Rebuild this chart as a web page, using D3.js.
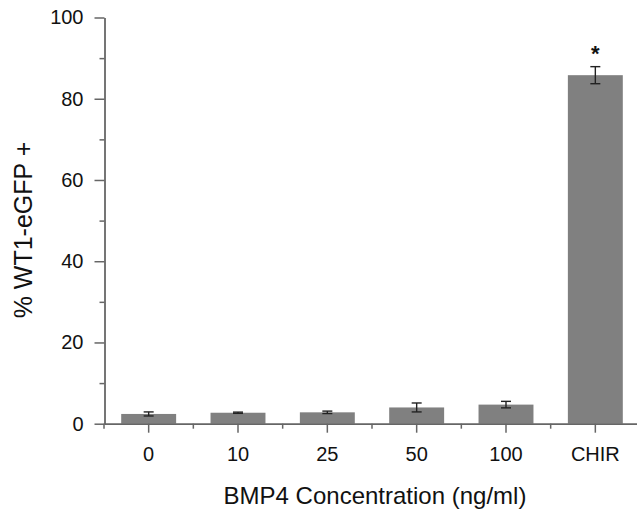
<!DOCTYPE html>
<html>
<head>
<meta charset="utf-8">
<script src="https://cdn.jsdelivr.net/npm/d3@7"></script>
<style>
  html, body { margin: 0; padding: 0; background: #fff; }
  svg { display: block; font-family: "Liberation Sans", Arial, sans-serif; }
</style>
</head>
<body>
<div id="chart"></div>
<script>
const categories = ["0", "10", "25", "50", "100", "CHIR"];
const values = [2.4, 2.7, 2.8, 4.0, 4.7, 85.8];
const errors = [0.5, 0.15, 0.3, 1.1, 0.8, 2.1];
const significant = [false, false, false, false, false, true];
const yMajorTicks = [0, 20, 40, 60, 80, 100];
const yMinorTicks = [10, 30, 50, 70, 90];

const width = 637;
const height = 513;
const axisColor = "#666";

const svg = d3.select("#chart").append("svg")
  .attr("width", width)
  .attr("height", height);

const x = d3.scaleBand()
  .domain(categories)
  .range([104, 640])
  .paddingInner(0.385)
  .paddingOuter(0.1925);

const y = d3.scaleLinear()
  .domain([0, 100])
  .range([423.7, 17.5]);

const data = categories.map((c, i) => ({ c, v: values[i], e: errors[i], s: significant[i] }));

// bars
svg.append("g")
  .selectAll("rect")
  .data(data)
  .join("rect")
  .attr("x", (d) => x(d.c))
  .attr("y", (d) => y(d.v))
  .attr("width", x.bandwidth())
  .attr("height", (d) => y(0) - y(d.v))
  .attr("fill", "#808080");

// error bars
const errG = svg.append("g").attr("stroke", "#222").attr("stroke-width", 1.4);
data.forEach((d) => {
  const cx = x(d.c) + x.bandwidth() / 2;
  const y1 = y(d.v + d.e), y2 = y(d.v - d.e);
  errG.append("line").attr("x1", cx).attr("x2", cx).attr("y1", y1).attr("y2", y2);
  errG.append("line").attr("x1", cx - 5).attr("x2", cx + 5).attr("y1", y1).attr("y2", y1);
  errG.append("line").attr("x1", cx - 5).attr("x2", cx + 5).attr("y1", y2).attr("y2", y2);
});

// significance marks
svg.append("g")
  .selectAll("text")
  .data(data.filter((d) => d.s))
  .join("text")
  .attr("x", (d) => x(d.c) + x.bandwidth() / 2)
  .attr("y", (d) => y(d.v + d.e) - 6)
  .attr("text-anchor", "middle")
  .style("font-size", "22px")
  .style("font-weight", "bold")
  .style("fill", "#111")
  .text("*");

// y axis minor ticks
const yMinor = svg.append("g")
  .attr("transform", "translate(104.5,0)")
  .call(d3.axisLeft(y).tickValues(yMinorTicks).tickSize(5).tickFormat(""));
yMinor.select(".domain").remove();

// y axis
const yAxis = svg.append("g")
  .attr("transform", "translate(104.5,0)")
  .call(d3.axisLeft(y).tickValues(yMajorTicks).tickSize(10).tickSizeOuter(0).tickPadding(11));
yAxis.selectAll("text").style("font-size", "20px").style("fill", "#111");

// x axis boundary ticks
const boundaries = categories.map((c) => x(c) - (x.step() - x.bandwidth()) / 2);
svg.append("g")
  .selectAll("line")
  .data(boundaries)
  .join("line")
  .attr("x1", (d) => d)
  .attr("x2", (d) => d)
  .attr("y1", y(0))
  .attr("y2", y(0) + 5)
  .attr("stroke", axisColor)
  .attr("stroke-width", 1.5);

// x axis
const xAxis = svg.append("g")
  .attr("transform", `translate(0,${y(0)})`)
  .call(d3.axisBottom(x).tickSize(9).tickSizeOuter(0).tickPadding(14));
xAxis.selectAll("text").style("font-size", "20px").style("fill", "#111");

[yAxis, yMinor, xAxis].forEach((g) => {
  g.selectAll("line").attr("stroke", axisColor).attr("stroke-width", 1.5);
  g.selectAll(".domain").attr("stroke", axisColor).attr("stroke-width", 1.8);
});

// axis titles
svg.append("text")
  .attr("x", 375)
  .attr("y", 504)
  .attr("text-anchor", "middle")
  .style("font-size", "24px")
  .style("fill", "#111")
  .text("BMP4 Concentration (ng/ml)");

svg.append("text")
  .attr("transform", "translate(32,230) rotate(-90)")
  .attr("text-anchor", "middle")
  .style("font-size", "25px")
  .style("fill", "#111")
  .text("% WT1-eGFP +");
</script>
</body>
</html>
